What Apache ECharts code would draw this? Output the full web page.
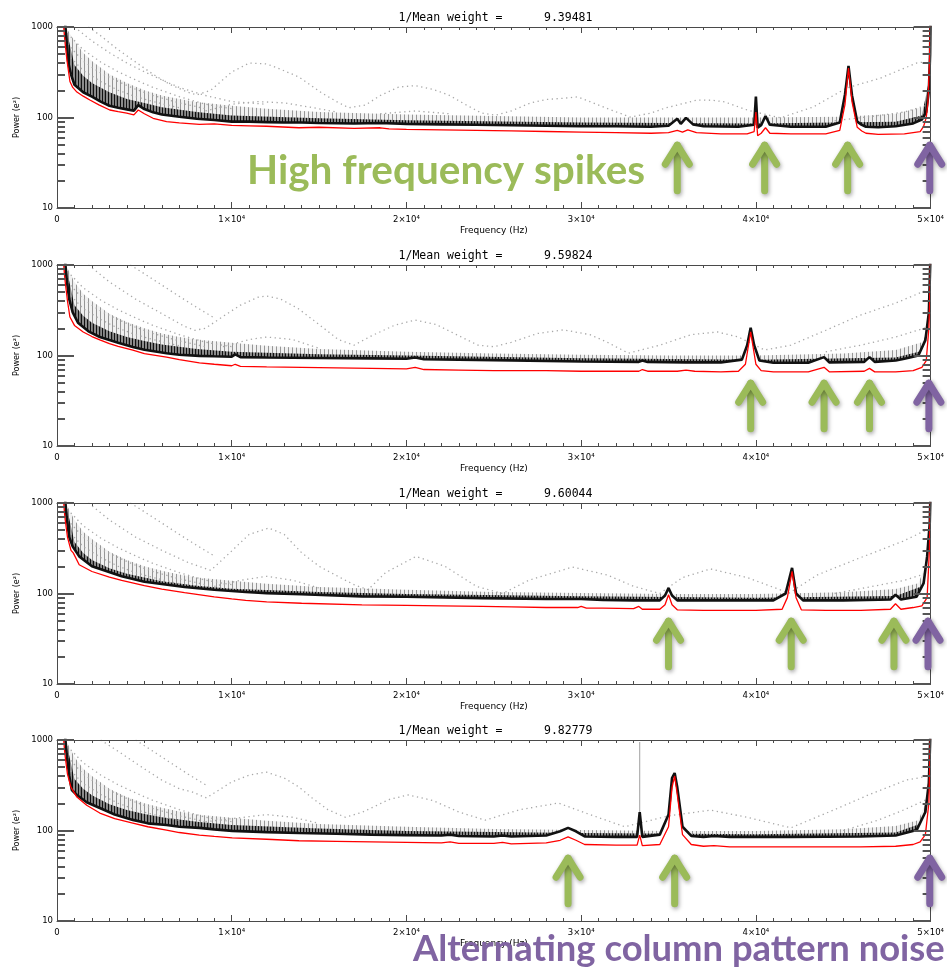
<!DOCTYPE html>
<html><head><meta charset="utf-8">
<script src="https://cdn.jsdelivr.net/npm/echarts@6/dist/echarts.min.js"></script>
<style>html,body{margin:0;padding:0;background:#fff}#c{width:947px;height:971px}</style>
</head><body><div id="c"></div>
<script>
// ---------------- DATA ----------------
const titleValues = ['9.39481','9.59824','9.60044','9.82779'];
const xTickValues = [0,10000,20000,30000,40000,50000];
const yMajorTicks = [10,100,1000];
const yMinorTicks = [20,30,40,50,60,70,80,90,200,300,400,500,600,700,800,900];

// Panel 1
const p1_red = [[350,1200],[450,700],[570,430],[740,250],[900,215],[1140,191],[1500,172],[1880,156],[2400,138],[3020,121],[3500,116],[3990,112],[4400,107],[4650,121],[5000,110],[5500,98],[6270,90],[7000,87],[8150,84],[9000,85],[10000,82],[11000,81],[12000,80],[13850,77],[15000,78],[17000,76],[18500,77],[19000,75],[20000,74],[22000,73],[24000,72],[26000,71],[28000,70],[30000,69],[32000,68],[34000,67],[35000,68],[35500,72],[35800,69],[36100,73],[36600,68],[38000,66],[39500,66],[39900,70],[40000,115],[40100,63],[40300,67],[40550,77],[40800,67],[42000,66],[44000,66],[44800,72],[45100,140],[45300,352],[45500,150],[45800,78],[46060,71],[46300,67],[47000,65],[48500,66],[49400,70],[49600,80],[49750,100],[49850,150],[49930,400],[50000,1500]];
const p1_black = [[450,1200],[550,700],[650,400],[800,300],[1000,230],[1500,190],[2000,170],[2500,150],[3000,135],[3500,128],[4000,123],[4400,119],[4650,137],[5000,124],[5500,114],[6000,108],[7000,102],[8000,97],[9000,94],[10000,90],[11000,90],[12000,89],[13000,88],[14000,88],[15000,87],[17000,86],[18500,87],[20000,85],[22000,84],[24000,83],[26000,82],[28000,81],[30000,80],[32000,80],[34000,79],[35000,81],[35500,97],[35700,85],[36000,99],[36400,84],[37000,80],[39000,79],[39900,83],[40000,170],[40100,77],[40300,82],[40550,104],[40800,83],[42000,79],[44000,79],[44800,88],[45100,180],[45300,372],[45500,175],[45800,90],[46060,83],[46300,79],[47000,78],[48000,80],[49000,86],[49500,95],[49750,115],[49900,200],[49970,500],[50000,1500]];
const p1_combTop = [[500,1000],[1000,700],[1500,520],[2000,420],[3000,300],[4000,240],[5000,200],[6000,175],[7000,160],[8000,148],[10000,135],[12000,125],[15000,115],[20000,108],[25000,104],[30000,100],[35000,100],[40000,100],[45000,102],[48000,110],[49500,130],[49800,150],[49950,600],[50000,1000]];
const p1_combMid = [[500,1000],[1000,380],[1500,290],[2000,240],[3000,190],[4000,160],[5000,145],[6000,130],[8000,115],[10000,105],[15000,98],[20000,93],[30000,88],[40000,86],[48000,90],[49500,105],[49900,250],[50000,1000]];
const p1_dots = [
  [[1800,1000],[2500,800],[3500,560],[4500,410],[5500,300],[6500,230],[7500,190],[8000,178],[8800,200],[10000,318],[11000,400],[12000,390],[12500,360],[13850,280],[15150,187],[16000,150],[16700,128],[17650,137],[18500,175],[19550,217],[20500,225],[21500,205],[22400,178],[23500,135],[24300,112],[25100,106],[26000,118],[27100,145],[28000,158],[29100,164],[29800,169],[30500,150],[31300,130],[32800,101],[34000,112],[34800,127],[36650,156],[37500,155],[38200,149],[39500,121],[41400,99],[43300,131],[45200,212],[47100,271],[49200,400],[49600,410]],
  [[8500,118],[10000,140],[11500,150],[13000,145],[14500,130],[16000,115]],
  [[18500,110],[20500,118],[22500,110]],
  [[44500,92],[46500,102],[48500,115],[49700,135]],
  [[600,850],[1500,560],[2500,410],[3500,320],[4500,260],[5500,215],[7000,170],[8500,140],[10000,125]],
  [[600,650],[1500,420],[2500,310],[3500,250],[4500,205],[5500,175],[7000,145],[8500,125]],
  [[600,500],[1500,330],[2500,250],[3500,200],[4500,170],[5500,150],[7000,128]],
  [[1000,1000],[2000,700],[3000,520],[4000,400],[5000,320],[6000,260],[7000,215],[8500,175],[10000,150],[12000,140]]
];
const p1_green = [35500,40500,45250];
const p1_purple = [49950];

// Panel 2
const p2_red = [[350,1200],[450,700],[600,400],[740,266],[1000,215],[1500,182],[2000,162],[2450,149],[3000,135],[3500,126],[4340,115],[5000,105],[6270,96],[7000,90],[8150,83],[9000,80],[10000,77],[10200,80],[10500,76],[12000,75],[14000,74],[16000,73],[18000,72],[20000,71],[20500,74],[21000,70],[23000,69],[25000,68],[28000,68],[30000,67],[33300,67],[33500,70],[33800,67],[35500,67],[36000,69],[36500,67],[38000,66],[39000,67],[39400,80],[39700,182],[40000,80],[40300,68],[41000,66],[43000,66],[43900,74],[44200,66],[46200,67],[46500,72],[46800,66],[48000,66],[49000,68],[49500,74],[49750,88],[49900,200],[49970,600],[50000,1500]];
const p2_black = [[450,1200],[550,700],[700,420],[900,300],[1200,230],[1800,185],[2450,160],[3000,148],[3500,138],[4340,124],[5000,116],[6270,106],[7000,102],[8150,99],[9000,98],[10000,97],[10200,103],[10500,96],[12000,95],[15000,94],[18000,93],[20000,92],[20500,95],[21000,91],[25000,89],[30000,86],[33300,85],[33500,88],[33800,85],[36000,84],[38000,84],[39200,90],[39500,130],[39700,202],[39900,130],[40200,88],[41000,83],[43000,83],[43900,96],[44200,84],[46200,85],[46500,96],[46800,85],[48000,88],[48500,92],[49300,100],[49700,148],[49900,300],[50000,1500]];
const p2_combTop = [[500,1000],[1000,650],[1500,480],[2000,400],[3000,290],[4000,235],[5000,200],[6000,175],[7000,160],[8000,150],[10000,138],[12000,128],[15000,118],[20000,110],[25000,105],[30000,102],[35000,100],[40000,100],[45000,105],[48000,115],[49500,140],[49800,170],[49950,600],[50000,1000]];
const p2_combMid = [[500,1000],[1000,360],[1500,275],[2000,230],[3000,185],[4000,160],[5000,145],[6000,132],[8000,118],[10000,110],[15000,103],[20000,100],[30000,93],[40000,90],[48000,95],[49500,112],[49900,260],[50000,1000]];
const p2_dots = [
  [[1800,1000],[3000,650],[4500,420],[6000,290],[7300,210],[7900,190],[8500,200],[9500,270],[10500,360],[11500,440],[12000,454],[12800,420],[13800,330],[15000,220],[16100,150],[17000,130],[18000,165],[19300,215],[20500,247],[21700,220],[23000,165],[24100,130],[25000,125],[26000,140],[27500,175],[29000,192],[30500,170],[31500,140],[32700,106],[34500,130],[36300,170],[37800,182],[39000,160],[40500,115],[42000,130],[44000,190],[46000,280],[48000,380],[49800,530]],
  [[9500,125],[11000,150],[12000,160],[13500,150],[15000,120]],
  [[44000,110],[46000,130],[48000,160],[49800,205]],
  [[600,850],[1500,560],[2500,410],[3500,320],[4500,260],[5500,215],[7000,170],[8500,140],[10000,125]],
  [[600,650],[1500,420],[2500,310],[3500,250],[4500,205],[5500,175],[7000,145],[8500,125]],
  [[600,500],[1500,330],[2500,250],[3500,200],[4500,170],[5500,150],[7000,128]],
  [[4200,1000],[5000,800],[6000,600],[7000,450],[8000,340],[9000,260]]
];
const p2_green = [39700,43900,46500];
const p2_purple = [49900];

// Panel 3
const p3_red = [[350,1200],[450,700],[600,420],[800,300],[930,281],[1270,208],[2000,175],[3000,152],[3700,140],[5000,122],[6000,112],[7300,102],[9000,92],[10000,87],[10800,84],[12000,81],[14000,78],[17450,75],[20000,74],[22000,73],[24340,72],[26000,71],[28000,70],[29800,70],[30000,72],[30300,69],[31230,69],[33000,68],[33300,72],[33500,67],[34500,67],[34800,75],[35000,97],[35200,75],[35500,66],[37000,65],[40000,65],[41500,67],[41800,90],[42070,176],[42300,90],[42600,66],[44000,65],[46000,65],[47700,67],[47990,77],[48300,67],[49000,70],[49500,73],[49800,90],[49930,300],[50000,1500]];
const p3_black = [[450,1200],[550,700],[700,420],[900,330],[1270,257],[2000,200],[3700,155],[5000,135],[7300,118],[9000,110],[10800,104],[12000,101],[14000,98],[17450,93],[20000,92],[24340,89],[28000,87],[30000,87],[31230,85],[33000,84],[34500,84],[34800,95],[35000,115],[35200,95],[35500,84],[38000,84],[41000,84],[41700,100],[42070,192],[42300,100],[42700,84],[45000,84],[47700,86],[47990,97],[48300,86],[49200,92],[49600,130],[49800,257],[49950,600],[50000,1500]];
const p3_combTop = [[500,1000],[1000,650],[1500,480],[2000,400],[3000,290],[4000,235],[5000,200],[6000,178],[7000,162],[8000,150],[10000,138],[12000,128],[15000,118],[20000,110],[25000,104],[30000,101],[35000,99],[40000,99],[45000,103],[48000,112],[49300,130],[49700,200],[49950,600],[50000,1000]];
const p3_combMid = [[500,1000],[1000,370],[1500,280],[2000,235],[3000,190],[4000,165],[5000,150],[6000,137],[8000,122],[10000,113],[15000,104],[20000,99],[30000,93],[40000,90],[48000,94],[49500,120],[49900,300],[50000,1000]];
const p3_dots = [
  [[1800,1000],[3000,650],[4500,420],[6000,300],[7500,220],[8800,180],[9880,281],[11000,450],[12120,530],[13000,450],[14010,281],[15000,200],[16070,155],[17000,125],[17800,110],[18800,170],[20550,257],[22200,200],[24000,120],[25500,100],[27000,140],[29500,196],[31500,160],[33000,120],[34500,100],[35800,150],[37400,187],[39500,150],[41900,101],[43500,160],[45700,237],[48400,377],[49800,507]],
  [[9000,120],[10500,140],[12000,155],[13500,140],[15000,115]],
  [[44500,100],[46500,118],[48500,140],[49800,168]],
  [[600,850],[1500,560],[2500,410],[3500,320],[4500,260],[5500,215],[7000,170],[8500,140],[10000,125]],
  [[600,650],[1500,420],[2500,310],[3500,250],[4500,205],[5500,175],[7000,145],[8500,125]],
  [[600,500],[1500,330],[2500,250],[3500,200],[4500,170],[5500,150],[7000,128]],
  [[4200,1000],[5000,800],[6000,600],[7000,450],[8000,340],[9000,260]]
];
const p3_green = [35000,42020,47900];
const p3_purple = [49850];

// Panel 4
const p4_red = [[350,1200],[450,700],[600,420],[800,300],[1140,234],[1700,190],[2450,156],[3300,135],[4340,121],[5200,110],[6270,101],[7000,95],[8150,89],[9000,86],[10030,83],[12000,80],[13850,77],[16000,76],[18000,75],[20000,74],[22000,73],[22500,75],[23000,72],[25000,72],[25500,74],[26000,71],[28000,73],[28800,78],[29250,85],[29700,78],[30200,70],[32000,69],[33200,69],[33350,89],[33500,68],[34500,70],[35000,110],[35200,300],[35350,400],[35500,250],[35800,90],[36300,70],[37000,67],[37600,68],[38500,66],[42000,66],[46000,66],[48000,67],[49000,70],[49400,75],[49700,90],[49900,200],[50000,1500]];
const p4_black = [[450,1200],[550,700],[700,400],[850,280],[1140,247],[1700,205],[2450,177],[3300,150],[4340,131],[5200,120],[6270,115],[7000,110],[8150,107],[9000,103],[10030,99],[12000,96],[13850,94],[16000,92],[18000,90],[20000,89],[22000,88],[22500,90],[23000,87],[25000,86],[25500,88],[26000,86],[28000,88],[28800,98],[29250,107],[29700,98],[30200,86],[32000,85],[33200,85],[33350,160],[33500,85],[34500,90],[35000,150],[35200,380],[35350,432],[35500,300],[35800,110],[36300,87],[37000,85],[37600,87],[38500,85],[42000,85],[46000,86],[48000,88],[49200,101],[49700,160],[49900,335],[50000,1500]];
const p4_thin = [[33350,160],[33350,950]];
const p4_combTop = [[500,1000],[1000,650],[1500,480],[2000,400],[3000,290],[4000,235],[5000,200],[6000,178],[7000,162],[8000,150],[10000,138],[12000,128],[15000,118],[20000,110],[25000,104],[30000,101],[35000,99],[40000,99],[45000,103],[48000,112],[49300,130],[49700,200],[49950,600],[50000,1000]];
const p4_combMid = [[500,1000],[1000,370],[1500,290],[2000,245],[3000,195],[4000,168],[5000,152],[6000,140],[8000,125],[10000,115],[15000,105],[20000,99],[30000,94],[40000,91],[48000,95],[49500,120],[49900,300],[50000,1000]];
const p4_dots = [
  [[2500,1000],[3500,750],[5000,480],[6000,360],[7000,290],[7760,266],[8550,229],[10000,344],[11000,410],[11970,442],[13000,380],[13850,302],[14600,229],[15500,170],[16500,140],[17500,160],[19000,220],[20100,247],[21500,215],[23000,160],[24500,130],[26500,170],[28700,201],[30500,150],[32500,110],[35000,145],[37400,168],[39500,140],[42000,107],[44500,170],[46500,250],[48600,361],[49600,390]],
  [[8500,125],[10000,135],[12000,150],[13500,140],[15000,120]],
  [[45000,100],[47000,130],[48500,170],[49700,217]],
  [[600,850],[1500,560],[2500,410],[3500,320],[4500,260],[5500,215],[7000,170],[8500,140],[10000,125]],
  [[600,650],[1500,420],[2500,310],[3500,250],[4500,205],[5500,175],[7000,145],[8500,125]],
  [[600,500],[1500,330],[2500,250],[3500,200],[4500,170],[5500,150],[7000,128]],
  [[4500,1000],[5500,750],[6500,560],[7500,420],[8500,320]]
];
const p4_green = [29250,35350];
const p4_purple = [49950];

// arrow annotation extent (power units)
const arrowTip = 52, arrowBase = 15.5;

// ---------------- LAYOUT ----------------
const GRID_TOP = [27,265,503,740], GRID_H = 181, GRID_L = 57, GRID_R = 13;
const panels = [
  {red:p1_red, black:p1_black, combTop:p1_combTop, combMid:p1_combMid, dots:p1_dots, green:p1_green, purple:p1_purple, extra:[]},
  {red:p2_red, black:p2_black, combTop:p2_combTop, combMid:p2_combMid, dots:p2_dots, green:p2_green, purple:p2_purple, extra:[]},
  {red:p3_red, black:p3_black, combTop:p3_combTop, combMid:p3_combMid, dots:p3_dots, green:p3_green, purple:p3_purple, extra:[]},
  {red:p4_red, black:p4_black, combTop:p4_combTop, combMid:p4_combMid, dots:p4_dots, green:p4_green, purple:p4_purple, extra:[p4_thin]}
];

function stripes(w, lineColor, bg){
  const c = document.createElement('canvas'); c.width = w; c.height = 4;
  const g = c.getContext('2d');
  if (bg) { g.fillStyle = bg; g.fillRect(0,0,w,4); }
  g.fillStyle = lineColor; g.fillRect(0,0,1,4);
  return c;
}
const lightPat = stripes(4, 'rgba(60,60,60,0.5)', 'rgba(225,225,225,0.45)');
const midPat = stripes(3, 'rgba(10,10,10,0.95)', 'rgba(95,95,95,0.7)');

const FONT = 'DejaVu Sans';
const AX = '#4a4a4a';
const grids = [], xAxes = [], yAxes = [], series = [];
const fmtX = v => v === 0 ? '0' : (v/10000) + '×10⁴';
const fmtY = v => String(Math.round(v));

panels.forEach((p, i) => {
  grids.push({left: GRID_L, right: GRID_R, top: GRID_TOP[i], height: GRID_H});
  const xCommon = {type:'value', gridIndex:i, min:0, max:50000, interval:10000, z:10,
    axisLine:{show:true, lineStyle:{color:AX, width:1}},
    splitLine:{show:false},
    axisTick:{show:true, inside:true, length:6, lineStyle:{color:AX, width:1}},
    minorTick:{show:true, splitNumber:10, length:3, lineStyle:{color:AX, width:1}}};
  xAxes.push(Object.assign({}, xCommon, {position:'bottom',
    axisLabel:{show:true, formatter:fmtX, fontFamily:FONT, fontSize:8.5, color:'#000', margin:7},
    name:'Frequency (Hz)', nameLocation:'middle', nameGap:18,
    nameTextStyle:{fontFamily:FONT, fontSize:9, color:'#000'}}));
  xAxes.push(Object.assign({}, xCommon, {position:'top', axisLabel:{show:false}}));
  const yCommon = {type:'log', logBase:10, gridIndex:i, min:10, max:1000, z:10, splitLine:{show:false}, minorTick:{show:false}};
  yAxes.push(Object.assign({}, yCommon, {position:'left',
    axisLine:{show:true, lineStyle:{color:AX, width:1}},
    axisTick:{show:true, inside:true, length:17, customValues:yMajorTicks, lineStyle:{color:'#555', width:2}},
    axisLabel:{show:true, customValues:yMajorTicks, formatter:fmtY, fontFamily:FONT, fontSize:8.5, color:'#000', margin:4},
    name:'Power (e²)', nameLocation:'middle', nameGap:22, nameRotate:90,
    nameTextStyle:{fontFamily:FONT, fontSize:8, color:'#000'}}));
  yAxes.push(Object.assign({}, yCommon, {position:'left', axisLine:{show:false},
    axisTick:{show:true, inside:true, length:8, customValues:yMinorTicks, lineStyle:{color:'#555', width:2}},
    axisLabel:{show:false}}));
  yAxes.push(Object.assign({}, yCommon, {position:'right',
    axisLine:{show:true, lineStyle:{color:AX, width:1}},
    axisTick:{show:true, inside:true, length:17, customValues:yMajorTicks, lineStyle:{color:'#555', width:2}},
    axisLabel:{show:false}}));
  yAxes.push(Object.assign({}, yCommon, {position:'right', axisLine:{show:false},
    axisTick:{show:true, inside:true, length:8, customValues:yMinorTicks, lineStyle:{color:'#555', width:2}},
    axisLabel:{show:false}}));

  const base = {type:'line', xAxisIndex:2*i, yAxisIndex:4*i, showSymbol:false, symbol:'none', silent:true, animation:false, clip:true};
  series.push(Object.assign({}, base, {data:p.combTop, lineStyle:{width:0}, areaStyle:{color:{image:lightPat, repeat:'repeat'}, opacity:1, origin:'start'}, z:1}));
  series.push(Object.assign({}, base, {data:p.combMid, lineStyle:{width:0}, areaStyle:{color:{image:midPat, repeat:'repeat'}, opacity:1, origin:'start'}, z:1}));
  series.push(Object.assign({}, base, {data:p.black, lineStyle:{width:0}, areaStyle:{color:'#ffffff', opacity:1, origin:'start'}, z:1}));
  p.dots.forEach(d => series.push(Object.assign({}, base, {data:d, lineStyle:{color:'#a8a8a8', width:1.3, type:[1.3,3.5]}, z:2})));
  p.extra.forEach(d => series.push(Object.assign({}, base, {data:d, lineStyle:{color:'#888', width:0.8}, z:2})));
  series.push(Object.assign({}, base, {data:p.black, lineStyle:{color:'#111', width:2.6}, z:3}));
  series.push(Object.assign({}, base, {data:p.red, lineStyle:{color:'#ff0000', width:1.3}, z:4}));
});

const chart = echarts.init(document.getElementById('c'), null, {renderer:'canvas'});
chart.setOption({animation:false, backgroundColor:'#fff', grid:grids, xAxis:xAxes, yAxis:yAxes, series:series});

// ---------------- ANNOTATIONS ----------------
const GREEN = '#9bbb59', PURPLE = '#8064a2';
const gfx = [];
const cx = GRID_L + (947 - GRID_L - GRID_R) / 2;
panels.forEach((p, i) => {
  gfx.push({type:'text', z:100, style:{x:cx, y:GRID_TOP[i]-9, text:'1/Mean weight =      ' + titleValues[i],
    font:'11.5px "DejaVu Sans Mono"', fill:'#000', align:'center', verticalAlign:'middle', textAlign:'center', textVerticalAlign:'middle'}});
  const addArrow = (f, color) => {
    const tip = chart.convertToPixel({xAxisIndex:2*i, yAxisIndex:4*i}, [f, arrowTip]);
    const bot = chart.convertToPixel({xAxisIndex:2*i, yAxisIndex:4*i}, [f, arrowBase]);
    const st = {stroke:color, lineWidth:7, lineCap:'round', lineJoin:'round', fill:null,
      shadowBlur:4, shadowColor:'rgba(0,0,0,0.35)', shadowOffsetX:1, shadowOffsetY:2};
    gfx.push({type:'polyline', z:100, shape:{points:[[tip[0], bot[1]], [tip[0], tip[1]+2]]}, style:st});
    gfx.push({type:'polyline', z:100, shape:{points:[[tip[0]-12, tip[1]+21], [tip[0], tip[1]+2], [tip[0]+12, tip[1]+21]]}, style:st});
  };
  p.green.forEach(f => addArrow(f, GREEN));
  p.purple.forEach(f => addArrow(f, PURPLE));
});
function fitFont(text, width, weight, family){
  const c = document.createElement('canvas').getContext('2d');
  c.font = weight + ' 40px ' + family;
  return 40 * width / c.measureText(text).width;
}
const t1 = 'High frequency spikes', t2 = 'Alternating column pattern noise';
const s1 = fitFont(t1, 398, 'bold', 'Lato'), s2 = fitFont(t2, 532, 'bold', 'Lato');
gfx.push({type:'text', z:100, style:{x:247, y:171, text:t1, font:'bold ' + s1.toFixed(1) + 'px Lato', fill:GREEN, align:'left', verticalAlign:'middle', textAlign:'left', textVerticalAlign:'middle'}});
gfx.push({type:'text', z:100, style:{x:413, y:949, text:t2, font:'bold ' + s2.toFixed(1) + 'px Lato', fill:PURPLE, align:'left', verticalAlign:'middle', textAlign:'left', textVerticalAlign:'middle'}});
chart.setOption({graphic:{elements:gfx}});
</script></body></html>
